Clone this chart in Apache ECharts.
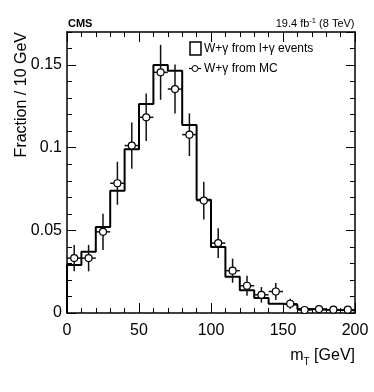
<!DOCTYPE html>
<html>
<head>
<meta charset="utf-8">
<script src="https://cdn.jsdelivr.net/npm/echarts@6/dist/echarts.min.js"></script>
<style>html,body{margin:0;padding:0;background:#fff}#c{width:374px;height:392px}</style>
</head>
<body>
<div id="c"></div>
<script>
// ---- data ----
const binEdges = [0,10,20,30,40,50,60,70,80,90,100,110,120,130,140,150,160,170,180,190,200];
const histValues = [0.029,0.037,0.052,0.074,0.099,0.1265,0.150,0.1466,0.1138,0.0685,0.040,0.022,0.0137,0.009,0.0056,0.005,0.0024,0.002,0.0018,0.0016];
const mcValues = [0.0332,0.0332,0.0491,0.0785,0.1013,0.1184,0.1456,0.1355,0.1079,0.068,0.0423,0.0256,0.0165,0.011,0.013,0.0056,0.0018,0.0024,0.002,0.002];
const mcErrors = [0.008,0.008,0.011,0.013,0.014,0.0144,0.0166,0.0148,0.0129,0.0114,0.009,0.0073,0.006,0.0047,0.0052,0.003,0.001,0.001,0.001,0.001];
const xTickValues = [0,50,100,150,200];
const xTickLabels = ['0','50','100','150','200'];
const yTickValues = [0,0.05,0.1,0.15];
const yTickLabels = ['0','0.05','0.1','0.15'];
const legendLabels = ['W+\u03b3 from l+\u03b3 events','W+\u03b3 from MC'];
const yTitle = 'Fraction / 10 GeV';
const xTitleParts = ['m','T',' [GeV]'];
const topLeftText = 'CMS';
const topRightParts = ['19.4 fb','-1',' (8 TeV)'];

// ---- build ----
const FONT = "'Liberation Sans', Arial, Helvetica, sans-serif";
const mctx = document.createElement('canvas').getContext('2d');
function tw(t, s, w){ mctx.font = (w||'normal') + ' ' + s + 'px ' + FONT; return mctx.measureText(t).width; }
function txt(t, x, baseline, s, w, align){
  return {type:'text', x:x, y:baseline - 0.3465*s, silent:true,
    style:{text:t, fontSize:s, fontFamily:FONT, fontWeight:w||'normal', fill:'#000',
      align:align||'left', verticalAlign:'middle', textAlign:align||'left', textVerticalAlign:'middle'}};
}
function segs(list, xStart, baseline){
  const out = []; let x = xStart;
  list.forEach(g => { out.push(txt(g.t, x, baseline + (g.dy||0), g.s, g.w)); x += tw(g.t, g.s, g.w); });
  return out;
}
function segsRight(list, xRight, baseline){
  const total = list.reduce((a,g)=>a + tw(g.t,g.s,g.w), 0);
  return segs(list, xRight - total, baseline);
}

const histLine = [[binEdges[0], 0]];
for (let i = 0; i < histValues.length; i++) histLine.push([binEdges[i], histValues[i]]);
histLine.push([binEdges[binEdges.length-1], histValues[histValues.length-1]]);

const mcData = mcValues.map((v,i)=>[(binEdges[i]+binEdges[i+1])/2, v, mcErrors[i], binEdges[i+1]-binEdges[i]]);

const X0 = 67, X1 = 355, Y0 = 32, Y1 = 313;
const yMax = 0.17;

function yAx(pos, interval, len, labels, line){
  return {type:'value', position:pos, min:0, max:yMax, interval:interval,
    axisLine:{show:line, lineStyle:{color:'#000', width:1.5}},
    axisTick:{show:true, inside:true, length:len, lineStyle:{color:'#000', width:1}},
    axisLabel:{show:labels, margin:5, fontSize:16, fontFamily:FONT, color:'#000', showMaxLabel:false,
      formatter: v => { const k = yTickValues.findIndex(t => Math.abs(t-v) < 1e-9); return k >= 0 ? yTickLabels[k] : ''; }},
    splitLine:{show:false}};
}
function xAx(pos, labels){
  return {type:'value', position:pos, min:0, max:200, interval:50,
    axisLine:{show:true, onZero:false, lineStyle:{color:'#000', width:1.5}},
    axisTick:{show:true, inside:true, length:10, lineStyle:{color:'#000', width:1}},
    minorTick:{show:true, splitNumber:5, length:5, lineStyle:{color:'#000', width:1}},
    axisLabel:{show:labels, margin:10, fontSize:16, fontFamily:FONT, color:'#000',
      formatter: v => { const k = xTickValues.indexOf(v); return k >= 0 ? xTickLabels[k] : ''; }},
    splitLine:{show:false}};
}

const graphics = [];
// top texts
graphics.push(txt(topLeftText, 68, 28, 11, 'bold'));
segsRight([{t:topRightParts[0], s:11},{t:topRightParts[1], s:7.5, dy:-4},{t:topRightParts[2], s:11}], 354.5, 28).forEach(g=>graphics.push(g));
// x title
segsRight([{t:xTitleParts[0], s:16},{t:xTitleParts[1], s:10, dy:4.5},{t:xTitleParts[2], s:16}], 355, 361.5).forEach(g=>graphics.push(g));
// y title (rotated)
graphics.push({type:'text', x:22, y:Y0, rotation:Math.PI/2, silent:true,
  style:{text:yTitle, fontSize:16, fontFamily:FONT, fill:'#000', align:'right', verticalAlign:'middle', textAlign:'right', textVerticalAlign:'middle'}});
// legend
graphics.push({type:'rect', shape:{x:190, y:42, width:11, height:13}, style:{fill:'#fff', stroke:'#000', lineWidth:1.5}});
graphics.push(txt(legendLabels[0], 204, 48.5 + 0.3465*12, 12));
graphics.push({type:'line', shape:{x1:189, y1:68.5, x2:201, y2:68.5}, style:{stroke:'#000', lineWidth:1.2}});
graphics.push({type:'circle', shape:{cx:195, cy:68.5, r:3}, style:{fill:'#fff', stroke:'#000', lineWidth:1}});
graphics.push(txt(legendLabels[1], 204, 68.5 + 0.3465*12, 12));

const chart = echarts.init(document.getElementById('c'), null, {renderer:'canvas'});
chart.setOption({
  animation:false,
  backgroundColor:'#fff',
  grid:{left:X0, right:374-X1, top:Y0, bottom:392-Y1, containLabel:false},
  xAxis:[xAx('bottom', true), xAx('top', false)],
  yAxis:[yAx('left',0.05,9,true,true), yAx('left',0.01,5,false,false), yAx('right',0.05,9,false,true), yAx('right',0.01,5,false,false)],
  series:[
    {type:'line', xAxisIndex:0, yAxisIndex:0, step:'end', data:histLine, symbol:'none',
     lineStyle:{color:'#000', width:2}, z:2},
    {type:'custom', xAxisIndex:0, yAxisIndex:0, data:mcData, z:3,
     renderItem:function(params, api){
       const x = api.value(0), y = api.value(1), e = api.value(2), w = api.value(3);
       const c = api.coord([x, y]);
       const t = api.coord([x, y + e]);
       const b = api.coord([x, Math.max(0, y - e)]);
       const l = api.coord([x - w/2, y]);
       const r = api.coord([x + w/2, y]);
       return {type:'group', children:[
         {type:'line', shape:{x1:c[0], y1:t[1], x2:c[0], y2:b[1]}, style:{stroke:'#111', lineWidth:1.5}},
         {type:'line', shape:{x1:l[0], y1:c[1], x2:r[0], y2:c[1]}, style:{stroke:'#111', lineWidth:1.5}},
         {type:'circle', shape:{cx:c[0], cy:c[1], r:3.5}, style:{fill:'#fff', stroke:'#000', lineWidth:1.2}}
       ]};
     }}
  ],
  graphic:graphics
});
</script>
</body>
</html>
